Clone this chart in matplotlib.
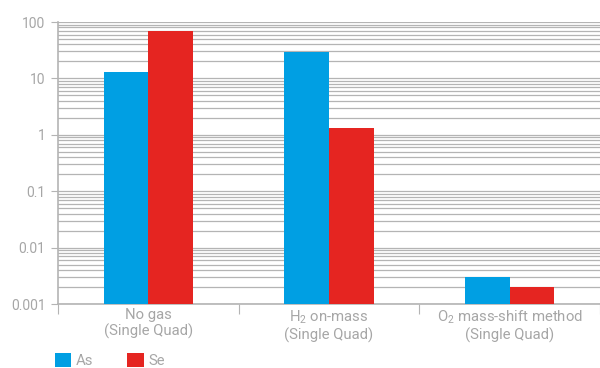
import matplotlib
matplotlib.use("Agg")
import matplotlib.pyplot as plt
import numpy as np

categories = ["No gas\n(Single Quad)", "H$_2$ on-mass\n(Single Quad)", "O$_2$ mass-shift method\n(Single Quad)"]
series_names = ["As", "Se"]
as_values = [13, 29.5, 0.003]
se_values = [69, 1.33, 0.002]
ytick_labels = ["0.001", "0.01", "0.1", "1", "10", "100"]
ytick_values = [0.001, 0.01, 0.1, 1, 10, 100]

plt.rcParams['font.family'] = ['Roboto', 'DejaVu Sans']
plt.rcParams['mathtext.fontset'] = 'custom'
plt.rcParams['mathtext.rm'] = 'Roboto'
plt.rcParams['mathtext.it'] = 'Roboto'

txt = "#a6a6a6"
grid = "#b4b4b4"
c_as = "#009fe3"
c_se = "#e52521"

fig = plt.figure(figsize=(6, 3.68), dpi=100)
ax = fig.add_axes([58/600, 1-304/368, 1-58/600, (304-22)/368])
x = np.arange(len(categories))
w = 45/182
ax.bar(x - w/2, as_values, width=w, color=c_as, label=series_names[0], zorder=3)
ax.bar(x + w/2, se_values, width=w, color=c_se, label=series_names[1], zorder=3)
ax.set_yscale('log')
ax.set_ylim(0.001, 100)
ax.set_xlim(-0.5, (600-149)/182)
ax.set_yticks(ytick_values)
ax.set_yticklabels(ytick_labels)
ax.yaxis.set_minor_locator(matplotlib.ticker.LogLocator(base=10, subs=np.arange(2, 10)))
ax.yaxis.set_minor_formatter(matplotlib.ticker.NullFormatter())
ax.grid(True, which='both', axis='y', color=grid, lw=0.9, zorder=0)
ax.tick_params(axis='y', which='minor', length=0)
ax.tick_params(axis='y', which='major', length=5, color=grid, labelcolor=txt, labelsize=10, pad=4)
ax.set_xticks([-0.5, 0.5, 1.5, 2.5])
ax.set_xticklabels([])
ax.tick_params(axis='x', which='major', length=7, color=grid)
for i, c in enumerate(categories):
    ax.text(i, -0.015, c, transform=ax.get_xaxis_transform(), ha='center', va='top',
            color=txt, fontsize=10.7, linespacing=1.15)
for s in ['top', 'right']:
    ax.spines[s].set_visible(False)
for s in ['left', 'bottom']:
    ax.spines[s].set_color(grid)
    ax.spines[s].set_linewidth(1.2)

leg = fig.legend(loc='upper left', bbox_to_anchor=(55/600, 1-352.5/368), ncol=2, frameon=False,
                 borderpad=0, borderaxespad=0,
                 handlelength=1.1, handleheight=1.1, handletextpad=0.3, columnspacing=2.3,
                 fontsize=10.7)
for t in leg.get_texts():
    t.set_color(txt)
fig.savefig("out.png", dpi=100)
